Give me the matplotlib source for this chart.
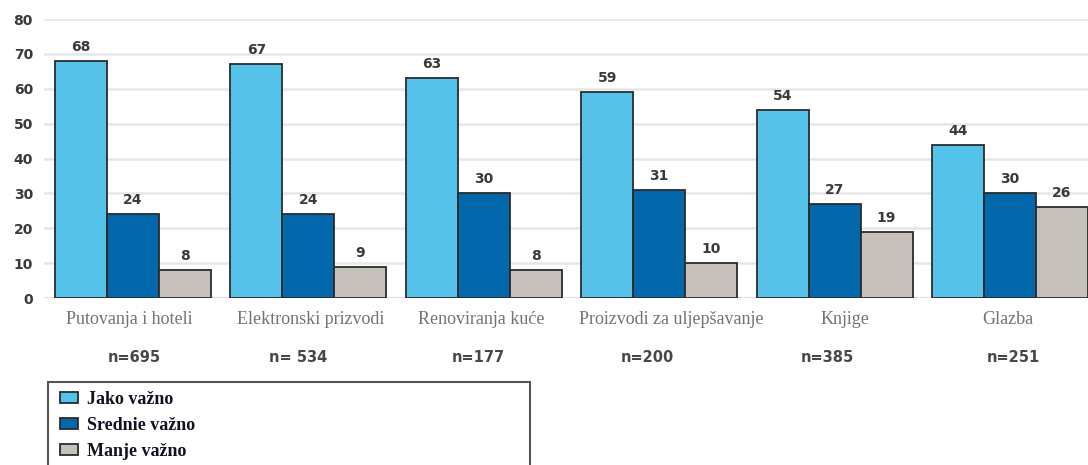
import matplotlib
matplotlib.use("Agg")
import matplotlib.pyplot as plt
from matplotlib.patches import Rectangle
from matplotlib.transforms import offset_copy
import numpy as np

categories = ["Putovanja i hoteli", "Elektronski prizvodi", "Renoviranja kuće",
              "Proizvodi za uljepšavanje", "Knjige", "Glazba"]
sample_sizes = ["n=695", "n= 534", "n=177", "n=200", "n=385", "n=251"]
jako = [68, 67, 63, 59, 54, 44]
srednje = [24, 24, 30, 31, 27, 30]
manje = [8, 9, 8, 10, 19, 26]
series_names = ["Jako važno", "Srednie važno", "Manje važno"]
yticks = [0, 10, 20, 30, 40, 50, 60, 70, 80]

colors = ["#55C3E9", "#0367AC", "#C6C1BB"]
W, H = 1088, 465
fig = plt.figure(figsize=(W / 100, H / 100), dpi=100)
ax = fig.add_axes([44 / W, (H - 298) / H, (W - 44) / W, 279 / H])

sans = "DejaVu Sans"
serif = "Liberation Serif"

x = np.arange(len(categories))
bw = 0.2965
series = [jako, srednje, manje]
bars_all = []
for i, (vals, col, name) in enumerate(zip(series, colors, series_names)):
    bars = ax.bar(x + (i - 1) * bw, vals, bw, color=col, edgecolor="#2b2b2b",
                  linewidth=1.3, label=name, zorder=3)
    bars_all.append(bars)
    for b, v in zip(bars, vals):
        ax.annotate(str(v), (b.get_x() + b.get_width() / 2, v), xytext=(0, 5),
                    textcoords="offset points", ha="center", va="bottom",
                    fontsize=10, fontweight="bold", color="#3a3a3a", family=sans)

ax.set_ylim(0, 80)
ax.set_xlim(-0.507, 5.445)
ax.set_yticks(yticks)
ax.set_yticklabels([str(t) for t in yticks], fontsize=10, fontweight="bold",
                   color="#3a3a3a", family=sans)
ax.tick_params(axis="y", length=0, pad=8)
ax.tick_params(axis="x", length=0, labelbottom=False)
ax.grid(axis="y", color="#e6e6e6", linewidth=1.8, zorder=0)
for s in ax.spines.values():
    s.set_visible(False)
ax.axhline(0, color="#d0d0d0", linewidth=1.5, zorder=1)

cat_off = [-4, 2, -2, 12, 10, -2]
n_off = [1, -10, -5, -12, -7, 3]
trans = ax.get_xaxis_transform()
cat_y = -(319 - 298) / 279
n_y = -(357 - 298) / 279
for i, (c, n) in enumerate(zip(categories, sample_sizes)):
    t1 = offset_copy(trans, fig=fig, x=cat_off[i], y=0, units="dots")
    ax.text(x[i], cat_y, c, transform=t1, ha="center", va="center",
            fontsize=13, color="#7b6f70", family=serif)
    t2 = offset_copy(trans, fig=fig, x=n_off[i], y=0, units="dots")
    ax.text(x[i], n_y, n, transform=t2, ha="center", va="center",
            fontsize=10.5, fontweight="bold", color="#474747", family=sans)

# legend
leg = fig.legend(handles=[b[0] for b in bars_all], labels=series_names,
                 loc="upper left", bbox_to_anchor=(60 / W, 1 - 391 / H),
                 frameon=False, prop={"family": serif, "weight": "bold", "size": 13},
                 handlelength=1.0, handleheight=0.55, handletextpad=0.5,
                 labelspacing=0.5, borderpad=0.0, borderaxespad=0)
for t in leg.get_texts():
    t.set_color("#111122")
fig.add_artist(Rectangle((48 / W, -0.05), (530 - 48) / W, 0.05 + (H - 382) / H,
                         transform=fig.transFigure, fill=False,
                         edgecolor="#555555", linewidth=1.5))

fig.savefig("out.png", dpi=100)
